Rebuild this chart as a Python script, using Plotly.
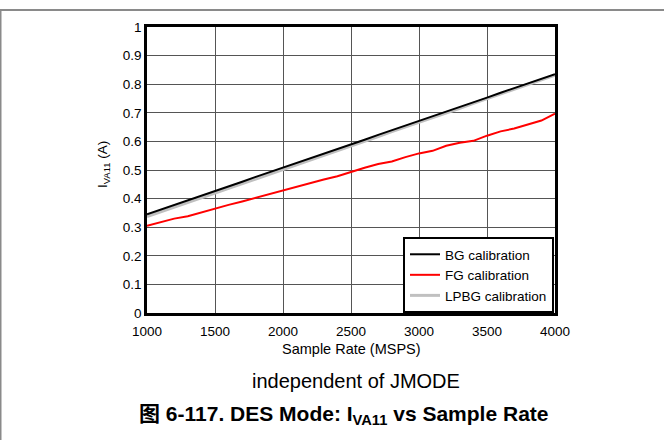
import plotly.graph_objects as go

sample_rate = [1000, 1100, 1200, 1300, 1400, 1500, 1600, 1700, 1800, 1900, 2000,
               2100, 2200, 2300, 2400, 2500, 2600, 2700, 2800, 2900, 3000,
               3100, 3200, 3300, 3400, 3500, 3600, 3700, 3800, 3900, 4000]
bg_cal = [0.345, 0.361, 0.377, 0.394, 0.410, 0.427, 0.443, 0.459, 0.476, 0.492, 0.508,
          0.524, 0.541, 0.557, 0.574, 0.590, 0.606, 0.623, 0.639, 0.655, 0.672,
          0.688, 0.704, 0.721, 0.737, 0.753, 0.770, 0.786, 0.802, 0.819, 0.835]
fg_cal = [0.305, 0.318, 0.330, 0.338, 0.352, 0.365, 0.378, 0.390, 0.403, 0.416, 0.430,
          0.442, 0.455, 0.467, 0.478, 0.494, 0.508, 0.521, 0.530, 0.545, 0.558,
          0.567, 0.585, 0.595, 0.602, 0.620, 0.635, 0.645, 0.660, 0.673, 0.697]
lpbg_cal = [0.337, 0.353, 0.370, 0.386, 0.403, 0.419, 0.436, 0.452, 0.469, 0.485, 0.502,
            0.518, 0.535, 0.551, 0.568, 0.584, 0.601, 0.617, 0.634, 0.650, 0.667,
            0.683, 0.700, 0.716, 0.733, 0.749, 0.766, 0.782, 0.799, 0.815, 0.832]

x_ticks = [1000, 1500, 2000, 2500, 3000, 3500, 4000]
y_ticks = [0, 0.1, 0.2, 0.3, 0.4, 0.5, 0.6, 0.7, 0.8, 0.9, 1]
y_tick_labels = ["0", "0.1", "0.2", "0.3", "0.4", "0.5", "0.6", "0.7", "0.8", "0.9", "1"]

FONT = "Liberation Sans, Arial, Noto Sans CJK SC, sans-serif"

fig = go.Figure()
fig.add_trace(go.Scatter(x=sample_rate, y=lpbg_cal, mode="lines", name="LPBG calibration",
                         line=dict(color="#c0c0c0", width=3), showlegend=False))
fig.add_trace(go.Scatter(x=sample_rate, y=bg_cal, mode="lines", name="BG calibration",
                         line=dict(color="black", width=2)))
fig.add_trace(go.Scatter(x=sample_rate, y=fg_cal, mode="lines", name="FG calibration",
                         line=dict(color="#ff0000", width=2)))
fig.add_trace(go.Scatter(x=[None], y=[None], mode="lines", name="LPBG calibration",
                         line=dict(color="#c0c0c0", width=3)))

L, R, T, B = 147, 109, 27, 127
PW, PH = 664 - L - R, 440 - T - B

def px(xp):
    return (xp - L) / PW

def py(yp):
    return (440 - B - yp) / PH

fig.update_layout(
    width=664, height=440,
    margin=dict(l=L, r=R, t=T, b=B),
    paper_bgcolor="white", plot_bgcolor="white",
    font=dict(family=FONT, size=13, color="black"),
    xaxis=dict(range=[1000, 4000], tickvals=x_ticks, ticktext=[str(v) for v in x_ticks],
               showgrid=True, gridcolor="#555555", gridwidth=1,
               showline=True, linecolor="black", linewidth=2.5, mirror=True,
               ticks="", zeroline=False, tickfont=dict(size=13.5), ticklabelstandoff=4),
    yaxis=dict(range=[0, 1], tickvals=y_ticks, ticktext=y_tick_labels,
               showgrid=True, gridcolor="#555555", gridwidth=1,
               showline=True, linecolor="black", linewidth=2.5, mirror=True,
               ticks="", zeroline=False, tickfont=dict(size=13.5)),
    legend=dict(x=px(554), y=0, xanchor="right", yanchor="bottom",
                bgcolor="white", bordercolor="black", borderwidth=2,
                font=dict(size=13.5), tracegroupgap=0, itemwidth=30),
    showlegend=True,
)

annotations = [
    dict(text="I<sub>VA11</sub> (A)", x=px(103), y=py(165), textangle=-90,
         font=dict(size=13.5)),
    dict(text="Sample Rate (MSPS)", x=px(351), y=py(349), font=dict(size=14.5)),
    dict(text="independent of JMODE", x=px(356), y=py(381), font=dict(size=20)),
    dict(text="<b>图 6-117. DES Mode: I<sub>VA11</sub> vs Sample Rate</b>", x=px(344), y=py(415),
         font=dict(size=21)),
]
for a in annotations:
    a.update(xref="paper", yref="paper", showarrow=False, xanchor="center", yanchor="middle")
fig.update_layout(annotations=annotations)

fig.add_shape(type="line", xref="paper", yref="paper", x0=px(0), x1=px(664), y0=py(10), y1=py(10),
              line=dict(color="#8a8a8a", width=2))
fig.add_shape(type="line", xref="paper", yref="paper", x0=px(0.5), x1=px(0.5), y0=py(10), y1=py(440),
              line=dict(color="#8a8a8a", width=2))

fig.write_html("out.html", config={"displayModeBar": False},
               post_script="document.body.style.margin='0';")
